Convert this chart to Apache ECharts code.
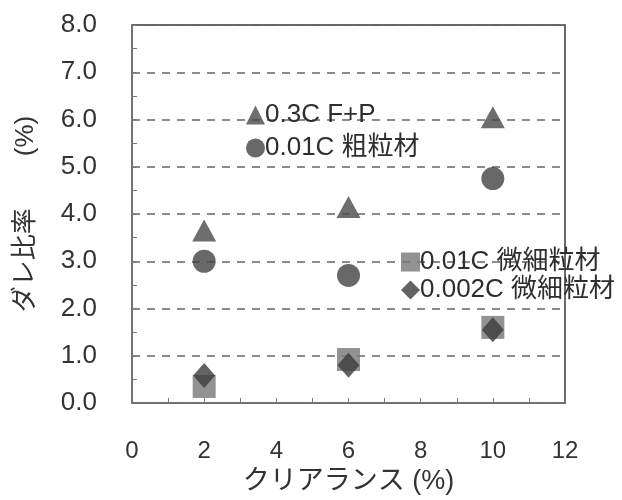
<!DOCTYPE html>
<html>
<head>
<meta charset="utf-8">
<script src="https://cdn.jsdelivr.net/npm/echarts@6/dist/echarts.min.js"></script>
<style>
  html, body { margin: 0; padding: 0; background: #fff; }
  #chart { width: 622px; height: 500px; }
</style>
</head>
<body>
<div id="chart"></div>
<script>
// Clearance (%) on the x axis, sag ratio (%) on the y axis
const clearance = [2, 6, 10];
const seriesNames = ['0.3C F+P', '0.01C 粗粒材', '0.01C 微細粒材', '0.002C 微細粒材'];
const fpValues = [3.65, 4.15, 6.05];
const coarseValues = [3.0, 2.7, 4.75];
const fine01Values = [0.35, 0.92, 1.6];
const fine002Values = [0.58, 0.8, 1.55];

const xTicks = [0, 2, 4, 6, 8, 10, 12];
const yTicks = [0, 1, 2, 3, 4, 5, 6, 7, 8];

const FONT = '"Liberation Sans", Arial, "Noto Sans CJK JP", sans-serif';

function pairs(values) {
  return clearance.map((x, i) => [x, values[i]]);
}

const chart = echarts.init(document.getElementById('chart'), null, { renderer: 'canvas' });

const legendText = {
  fontFamily: FONT, fontSize: 26, lineHeight: 26, color: '#2e2e2e', padding: [0, 0, 0, -5]
};

chart.setOption({
  backgroundColor: '#ffffff',
  animation: false,
  grid: {
    left: 132, right: 57, top: 25, bottom: 97,
    show: true, borderColor: '#3a3a3a', borderWidth: 1.5, backgroundColor: 'transparent'
  },
  legend: [
    {
      data: seriesNames.slice(0, 2),
      orient: 'vertical', left: 246, top: 102,
      itemWidth: 19, itemHeight: 19, itemGap: 7,
      selectedMode: false, padding: 0,
      textStyle: legendText
    },
    {
      data: seriesNames.slice(2, 4),
      orient: 'vertical', left: 401, top: 249,
      itemWidth: 19, itemHeight: 19, itemGap: 2,
      selectedMode: false, padding: 0,
      textStyle: legendText
    }
  ],
  xAxis: {
    type: 'value',
    min: xTicks[0], max: xTicks[xTicks.length - 1], interval: 2,
    name: 'クリアランス (%)',
    nameLocation: 'middle', nameGap: 62,
    nameTextStyle: { fontFamily: FONT, fontSize: 27, color: '#333' },
    axisLine: { show: true, onZero: false, lineStyle: { color: '#777', width: 1.5 } },
    axisTick: { show: true, inside: true, length: 5, lineStyle: { color: '#777' } },
    minorTick: { show: true, splitNumber: 2, length: 5, lineStyle: { color: '#777' } },
    axisLabel: { margin: 36, fontFamily: FONT, fontSize: 24, color: '#333' },
    splitLine: { show: false }
  },
  yAxis: {
    type: 'value',
    min: yTicks[0], max: yTicks[yTicks.length - 1], interval: 1,
    name: 'ダレ比率　　(%)',
    nameLocation: 'middle', nameGap: 93, nameRotate: 90,
    nameTextStyle: { fontFamily: FONT, fontSize: 26, color: '#333' },
    axisLine: { show: true, onZero: false, lineStyle: { color: '#777', width: 1.5 } },
    axisTick: { show: true, inside: true, length: 5, lineStyle: { color: '#777' } },
    minorTick: { show: true, splitNumber: 2, length: 5, lineStyle: { color: '#777' } },
    axisLabel: {
      margin: 35, fontFamily: FONT, fontSize: 26, color: '#333',
      formatter: v => v.toFixed(1)
    },
    splitLine: { show: true, lineStyle: { color: '#666', type: [8, 7], width: 1.5 } }
  },
  series: [
    {
      name: seriesNames[0], type: 'scatter', symbol: 'triangle', symbolSize: [24, 22],
      itemStyle: { color: '#4a4a4a' }, data: pairs(fpValues)
    },
    {
      name: seriesNames[1], type: 'scatter', symbol: 'circle', symbolSize: 23,
      itemStyle: { color: '#424242' }, data: pairs(coarseValues)
    },
    {
      name: seriesNames[2], type: 'scatter', symbol: 'rect', symbolSize: 23,
      itemStyle: { color: '#777777' }, data: pairs(fine01Values)
    },
    {
      name: seriesNames[3], type: 'scatter', symbol: 'diamond', symbolSize: [22, 25],
      itemStyle: { color: '#3c3c3c' }, data: pairs(fine002Values)
    }
  ]
});
</script>
</body>
</html>
